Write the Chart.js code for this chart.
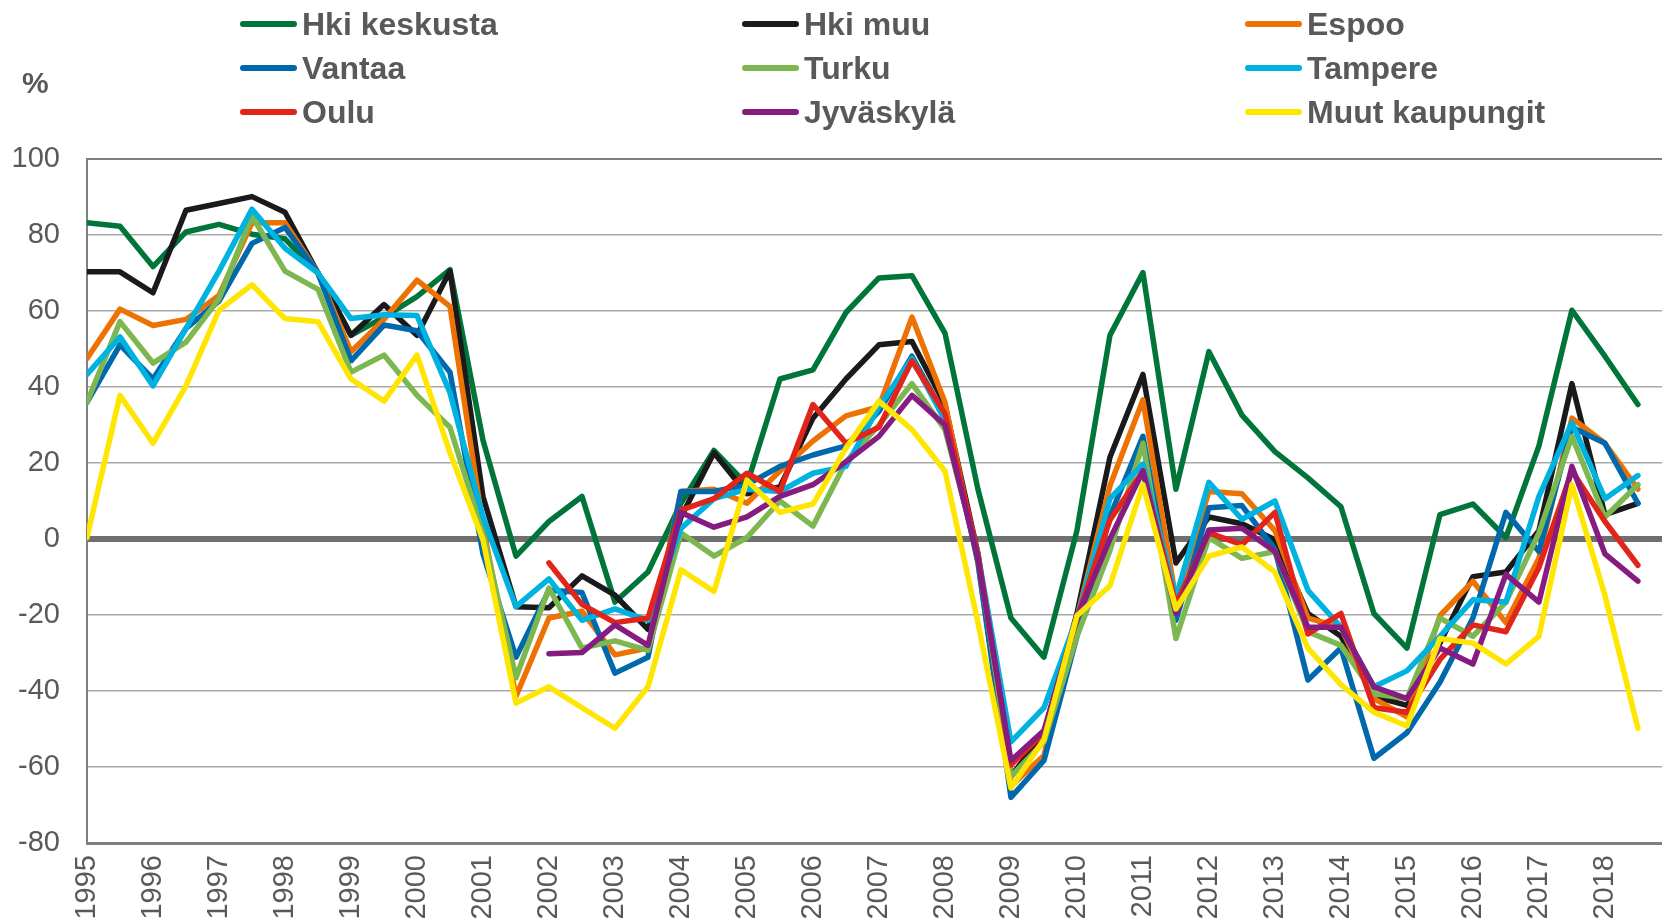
<!DOCTYPE html>
<html>
<head>
<meta charset="utf-8">
<script src="https://cdn.jsdelivr.net/npm/chart.js@4/dist/chart.umd.min.js"></script>
<style>
  html, body { margin: 0; padding: 0; background: #ffffff; }
  #wrap { position: relative; width: 1662px; height: 924px; overflow: hidden; }
  #chart { position: absolute; left: 0; top: 0; }
  #legend { position: absolute; left: 0; top: 0; width: 1662px; height: 140px; }
  .item { position: absolute; display: flex; align-items: center; height: 40px;
          font-family: 'Liberation Sans', Arial, sans-serif; font-weight: bold;
          font-size: 32px; color: #595959; white-space: nowrap; }
  .swatch { width: 57px; height: 6px; border-radius: 3px; margin-right: 5px; }
  #unit { position: absolute; left: 22px; top: 66px; font-family: 'Liberation Sans', Arial, sans-serif;
          font-weight: bold; font-size: 30px; color: #595959; }
</style>
</head>
<body>
<div id="wrap">
  <canvas id="chart" width="1662" height="924"></canvas>
  <div id="legend"></div>
  <div id="unit">%</div>
</div>
<script>
// Tick labels (one per year; data are half-yearly, 1995 H1 ... 2018 H2)
const years = ['1995','1996','1997','1998','1999','2000','2001','2002','2003','2004','2005','2006',
               '2007','2008','2009','2010','2011','2012','2013','2014','2015','2016','2017','2018'];

const seriesNames = ['Hki keskusta','Hki muu','Espoo','Vantaa','Turku','Tampere','Oulu','Jyväskylä','Muut kaupungit'];
const seriesColors = ['#00753A','#1A1A1C','#EE7203','#0068AD','#7DB74F','#00B2DF','#E1251B','#861C80','#FFE600'];

const hkiKeskusta = [83.2,82.3,71.7,80.8,82.8,80.2,79,70,53.6,58.4,63.8,70.9,26,-4.5,4.6,11.2,-16.6,-8.7,9.4,23.3,14.3,42.1,44.5,59.6,68.7,69.3,54.2,13.1,-20.8,-31.1,2.2,53.6,70.1,13.1,49.3,32.6,23,16.1,8.5,-19.6,-28.7,6.4,9.2,0.4,24.5,60.2,48.1,35.4];
const hkiMuu = [70.3,70.3,64.8,86.5,88.3,90.1,86,70,53.6,61.7,53.6,70.5,11.2,-17.8,-18.1,-9.7,-14.8,-23.8,5.8,22.7,11.9,13.7,31.8,42.1,51.1,52,35.4,-3.9,-62.5,-51,-19.6,21.5,43.3,-6.3,5.8,4,-0.2,-19.6,-25.6,-41.4,-43.8,-27.4,-9.9,-8.7,2.2,40.9,6.4,9.4];
const espoo = [47.5,60.5,56.2,57.8,64.1,83.2,83.2,70,49.3,57.8,68.1,61.2,3.4,-41.4,-20.8,-19,-30.5,-28.7,12.5,13.1,9.4,17.9,25.8,32.4,34.8,58.4,36,-6.3,-65,-57,-20.8,14,36.6,-16,12.5,11.9,2.2,-20.8,-23.2,-42,-46.8,-20.2,-11.1,-22,-5.1,31.8,25.2,13.1];
const vantaa = [36,51.1,42.1,55.4,62.6,77.8,82,70,46.9,56.3,54.8,43.9,-3.9,-31.1,-13.5,-14.1,-35.3,-31.1,12.5,12.5,14.3,19.1,22.1,24.5,33.6,48.1,32.4,-6,-68,-58.3,-25.6,6,27,-21.4,8.2,8.8,-2.7,-37.1,-28.7,-57.7,-51,-37.7,-20.8,7,-3.3,29.4,25.2,9.4];
const turku = [36,57.2,46.3,51.8,63.2,85,70.5,65.7,43.9,48.4,37.8,29.4,1.6,-36.5,-12.9,-28.7,-26.8,-29.3,1.6,-4.5,0.4,10,3.4,20.3,30,40.9,28.8,-4,-62.5,-53.4,-25.6,-3,25.2,-26.2,0.4,-5.1,-3.3,-24.4,-28,-40.7,-42,-20.8,-25.6,-16.6,1.6,27,5.8,14.3];
const tampere = [43.3,53.2,40.3,55.4,70.5,86.8,76.5,70,58,59,58.8,38.5,5.8,-17.8,-10.5,-21.4,-18.4,-21.4,2.8,10.6,13.1,12.5,17.3,19.1,34.8,47.5,31.2,-4,-53.4,-44.4,-20.8,10.6,19.7,-15.4,14.9,5.2,10,-13.5,-23.2,-38.9,-34.7,-25.6,-16,-16.6,11.2,30.6,10.6,16.7];
const oulu = [null,null,null,null,null,null,null,null,null,null,null,null,null,null,-6.3,-17.2,-22,-20.8,7.6,10.6,17.3,12.5,35.4,25.2,29.4,46.9,33,-4,-59.5,-51,-20.8,5,17.9,-17.2,1.6,-1.5,7,-25,-19.6,-44.4,-45.6,-31.7,-22.6,-24.4,-7.5,17.9,4.6,-6.9];
const jyvaskyla = [null,null,null,null,null,null,null,null,null,null,null,null,null,null,-30.2,-29.9,-22.6,-28,7,3.1,5.8,11.2,14.3,20.3,27,37.8,30,-5,-58.3,-50.4,-20.8,0,17.9,-19.6,2.4,2.8,-3.3,-23.2,-23.2,-38.9,-42,-28.7,-32.9,-9.3,-16.6,19.1,-3.9,-11.1];
const muutKaupungit = [0.4,37.8,25.2,40.3,60.2,66.9,58,57.2,42.1,36.3,48.4,22.7,-0.2,-43.2,-38.9,-44.4,-49.8,-38.9,-8.1,-13.8,15.5,7,9.2,23.9,36.3,28.8,17.9,-22,-65.5,-52.8,-20.2,-12.3,14.3,-18.4,-4.5,-2.1,-8.7,-28.7,-38.3,-45.6,-49.2,-26.2,-27.4,-32.9,-25.6,14.3,-14.8,-49.8];

const seriesValues = [hkiKeskusta, hkiMuu, espoo, vantaa, turku, tampere, oulu, jyvaskyla, muutKaupungit];

const datasets = seriesNames.map((name, k) => ({
  label: name,
  data: seriesValues[k].map((v, i) => ({ x: i, y: v })),
  borderColor: seriesColors[k],
  backgroundColor: seriesColors[k],
  borderWidth: 5.5,
  pointRadius: 0,
  tension: 0,
  spanGaps: false,
  borderJoinStyle: 'round',
  borderCapStyle: 'round',
  order: seriesNames.length - k
}));

// HTML legend
const legendPos = [[240,4],[742,4],[1245,4],[240,48],[742,48],[1245,48],[240,92],[742,92],[1245,92]];
const legendEl = document.getElementById('legend');
seriesNames.forEach((name, k) => {
  const d = document.createElement('div');
  d.className = 'item';
  d.style.left = legendPos[k][0] + 'px';
  d.style.top = legendPos[k][1] + 'px';
  const sw = document.createElement('span');
  sw.className = 'swatch';
  sw.style.background = seriesColors[k];
  const tx = document.createElement('span');
  tx.textContent = name;
  d.appendChild(sw); d.appendChild(tx);
  legendEl.appendChild(d);
});

const FONT = "'Liberation Sans', Arial, sans-serif";

new Chart(document.getElementById('chart'), {
  type: 'line',
  data: { datasets },
  options: {
    responsive: false,
    animation: false,
    devicePixelRatio: 1,
    layout: { padding: { top: 159, right: 0, bottom: 0, left: 0 } },
    plugins: { legend: { display: false }, tooltip: { enabled: false } },
    scales: {
      x: {
        type: 'linear',
        min: 0,
        max: 47.73,
        afterBuildTicks: (scale) => { scale.ticks = years.map((y, k) => ({ value: 2 * k })); },
        afterFit: (scale) => { scale.height = 81; },
        grid: { display: false, drawTicks: false },
        border: { display: true, color: '#7F7F7F', width: 3 },
        ticks: {
          autoSkip: false,
          minRotation: 90,
          maxRotation: 90,
          padding: 12,
          color: '#595959',
          font: { family: FONT, size: 29 },
          callback: (value) => years[Math.round(value / 2)]
        }
      },
      y: {
        min: -80,
        max: 100,
        afterFit: (scale) => { scale.width = 87; },
        border: { display: true, color: '#7F7F7F', width: 2 },
        grid: {
          drawTicks: false,
          color: (ctx) => {
            const v = ctx.tick && ctx.tick.value;
            if (v === 0) return '#6F6F6F';
            if (v === 100 || v === -80) return '#7F7F7F';
            return '#A9A9A9';
          },
          lineWidth: (ctx) => {
            const v = ctx.tick && ctx.tick.value;
            if (v === 0) return 6;
            if (v === 100) return 2;
            if (v === -80) return 3;
            return 1.5;
          }
        },
        ticks: {
          stepSize: 20,
          padding: 27,
          color: '#595959',
          font: { family: FONT, size: 29 }
        }
      }
    }
  }
});
</script>
</body>
</html>
